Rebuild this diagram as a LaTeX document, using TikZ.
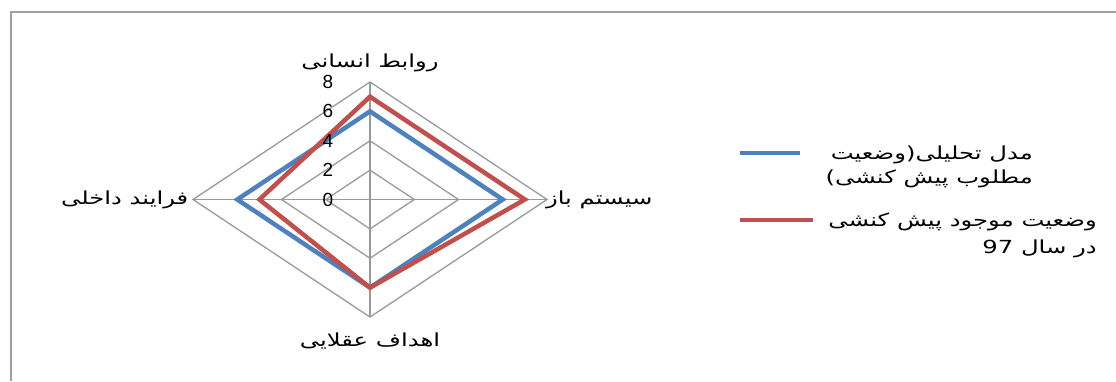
\documentclass[tikz,border=0pt]{standalone}
\usepackage{fontspec}
\setmainfont{Liberation Sans}
\newfontfamily\arabicfont[Script=Arabic, FakeStretch=1.35]{DejaVu Sans}
\TeXXeTstate=1
\usetikzlibrary{positioning}
\definecolor{serieblue}{HTML}{4F81BD}
\definecolor{seriered}{HTML}{C0504D}

\begin{document}
\begin{tikzpicture}[
		x=1pt, y=-1pt,
		ring/.style={draw=gray!80, line width=1.3pt},
		serie/.style={line width=4.5pt, line join=miter},
		axislabel/.style={font=\arabicfont\fontsize{18}{20}\selectfont, inner sep=0pt},
		tick/.style={font=\fontsize{19}{21}\selectfont, inner sep=0pt},
		legendtext/.style={font=\arabicfont\fontsize{18}{24}\selectfont, align=right, inner sep=0pt}
	]
	\useasboundingbox (0,0) rectangle (1116,381);
	\draw[gray!75, line width=1.5pt] (11,381) |- (1116,12);

	\begin{scope}[shift={(370,199.5)}, x=22.125pt, y=14.69pt]
		\foreach \r in {2,4,6,8}
			\draw[ring] (0,\r) -- (\r,0) -- (0,-\r) -- (-\r,0) -- cycle;
		\draw[ring] (0,8) -- (0,-8);
		\draw[ring] (-8,0) -- (8,0);

		\draw[serie, serieblue] (0,6) -- (6,0) -- (0,-6) -- (-6,0) -- cycle;
		\draw[serie, seriered] (0,7) -- (7,0) -- (0,-6) -- (-5,0) -- cycle;

		\foreach \v in {0,2,...,8}
			\node[tick] (tick\v) at (-1.9,\v) {\v};

		\node[axislabel] (human) at (0,9.3) {\beginR روابط انسانی\endR};
		\node[axislabel, anchor=west] (opensys) at (7.95,0) {\beginR سیستم باز\endR};
		\node[axislabel] (rational) at (0,-9.6) {\beginR اهداف عقلایی\endR};
		\node[axislabel, anchor=east] (internal) at (-8.2,0) {\beginR فرایند داخلی\endR};
	\end{scope}

	\node[legendtext, anchor=north east] (legdesired) at (1033,146) {\beginR مدل تحلیلی(وضعیت\endR\\\beginR مطلوب پیش کنشی)\endR};
	\node[legendtext, anchor=north east, font=\arabicfont\fontsize{18}{27}\selectfont] (legcurrent) at (1097,213) {\beginR وضعیت موجود پیش کنشی\endR\\\beginR در سال \beginL 97\endL\endR};
	\draw[serie, serieblue] (740,153) -- (800,153);
	\draw[serie, seriered] (740,220) -- (813,220);
\end{tikzpicture}
\end{document}
